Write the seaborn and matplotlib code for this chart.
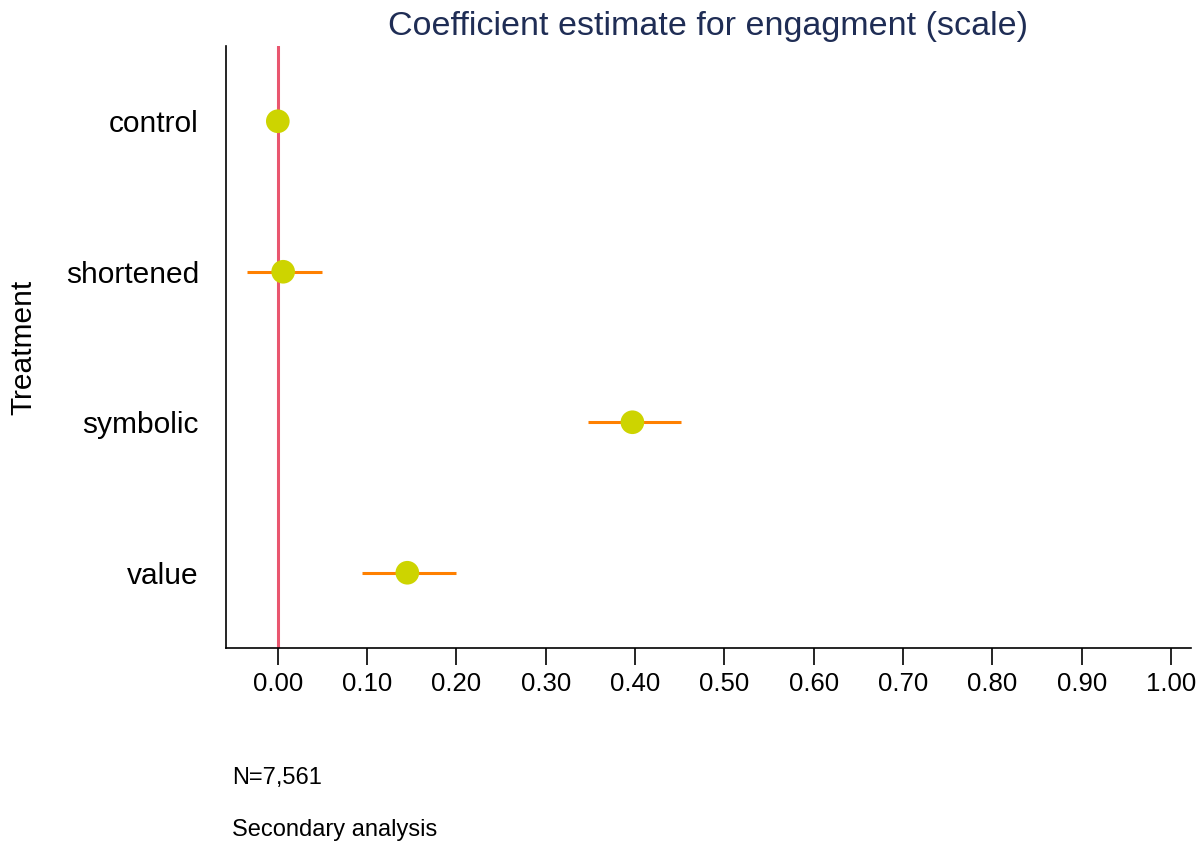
import matplotlib
matplotlib.use("Agg")
import matplotlib.pyplot as plt
import seaborn as sns
import pandas as pd

# Coefficient estimates with 95% confidence bounds per treatment arm
treatments = ["control", "shortened", "symbolic", "value"]
estimates = [0.0, 0.006, 0.397, 0.145]
ci_low = [0.0, -0.035, 0.347, 0.094]
ci_high = [0.0, 0.049, 0.451, 0.199]
x_ticks = [0.0, 0.1, 0.2, 0.3, 0.4, 0.5, 0.6, 0.7, 0.8, 0.9, 1.0]

df = pd.DataFrame({"treatment": treatments, "estimate": estimates,
                   "lo": ci_low, "hi": ci_high})

sns.set_theme(style="white")
plt.rcParams["font.family"] = ["Liberation Sans", "DejaVu Sans"]

fig = plt.figure(figsize=(12.04, 8.46), dpi=100)
ax = fig.add_axes([226 / 1204, 1 - 648 / 846, (1191 - 226) / 1204, (648 - 46) / 846])

# point estimates first so the categorical axis keeps the treatment order
sns.scatterplot(data=df, x="estimate", y="treatment", ax=ax,
                color="#cdd400", s=290, edgecolor="none", zorder=3)

# confidence intervals (skip zero-width reference category)
ci = df[df["hi"] > df["lo"]]
ax.hlines(y=ci["treatment"], xmin=ci["lo"], xmax=ci["hi"],
          color="#ff8000", lw=2.2, zorder=2)

ax.axvline(0, color="#e9566f", lw=2.2, zorder=1)

ax.set_xlim(-0.058, 1.0224)
ax.set_ylim(3.5, -0.5)
ax.set_xticks(x_ticks)
ax.set_xticklabels([f"{t:.2f}" for t in x_ticks])

for side in ["top", "right"]:
    ax.spines[side].set_visible(False)
for side in ["left", "bottom"]:
    ax.spines[side].set_color("black")
    ax.spines[side].set_linewidth(1.2)

ax.tick_params(axis="x", which="major", direction="out", length=12, width=1.2,
               color="black", labelsize=18.5, pad=5, bottom=True)
ax.tick_params(axis="y", length=0, labelsize=21.5, pad=19.5)
for lbl in ax.get_xticklabels() + ax.get_yticklabels():
    lbl.set_color("black")

ax.set_xlabel("")
ax.set_ylabel("Treatment", fontsize=21.5, color="black")
ax.yaxis.set_label_coords(-0.195, 0.5)

ax.set_title("Coefficient estimate for engagment (scale)", fontsize=24.5,
             color="#1f2d55", pad=8)

fig.text(232 / 1204, 1 - 778 / 846, "N=7,561", fontsize=17, color="black",
         va="center", ha="left")
fig.text(232 / 1204, 1 - 830 / 846, "Secondary analysis", fontsize=17,
         color="black", va="center", ha="left")

fig.savefig("out.png", dpi=100, facecolor="white")
